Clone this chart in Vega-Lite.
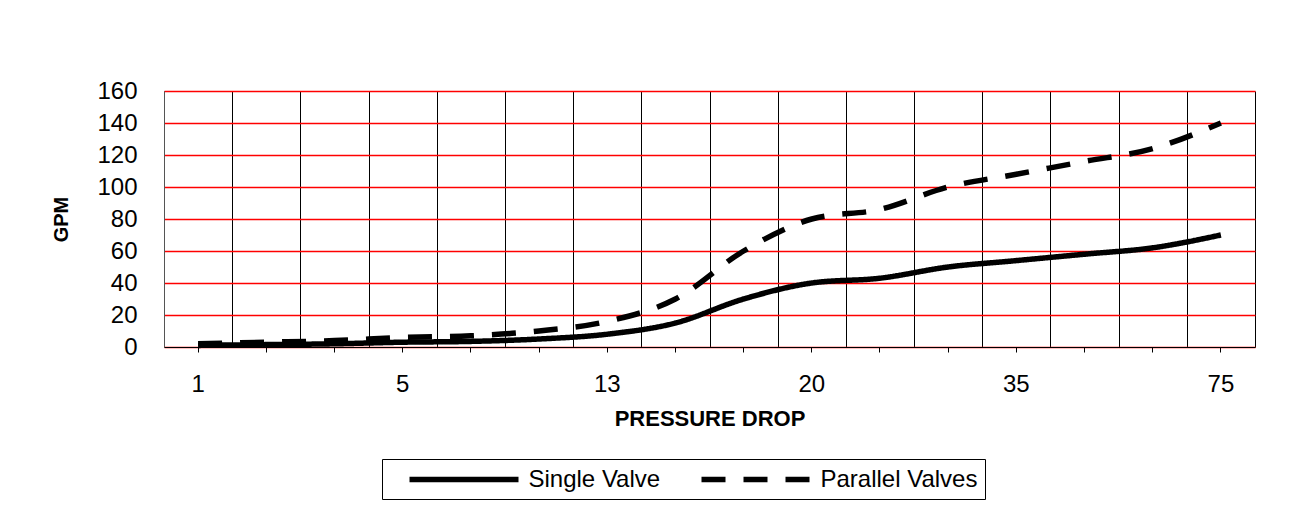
{
  "$schema": "https://vega.github.io/schema/vega-lite/v6.json",
  "width": 1091,
  "height": 256,
  "autosize": {"type": "none"},
  "padding": {"left": 164, "top": 91, "right": 43, "bottom": 169},
  "background": "white",
  "config": {
    "view": {"stroke": null},
    "font": "Liberation Sans",
    "axis": {"labelFont": "Liberation Sans", "titleFont": "Liberation Sans", "labelColor": "black", "titleColor": "black"},
    "legend": {"labelFont": "Liberation Sans"}
  },
  "datasets": {
    "flow": [
      {"drop": "1", "series": "Single Valve", "gpm": 1},
      {"drop": "2", "series": "Single Valve", "gpm": 1.5},
      {"drop": "3", "series": "Single Valve", "gpm": 2},
      {"drop": "5", "series": "Single Valve", "gpm": 3},
      {"drop": "7", "series": "Single Valve", "gpm": 3.5},
      {"drop": "10", "series": "Single Valve", "gpm": 5},
      {"drop": "13", "series": "Single Valve", "gpm": 8},
      {"drop": "15", "series": "Single Valve", "gpm": 15},
      {"drop": "17", "series": "Single Valve", "gpm": 30},
      {"drop": "20", "series": "Single Valve", "gpm": 40},
      {"drop": "25", "series": "Single Valve", "gpm": 43},
      {"drop": "30", "series": "Single Valve", "gpm": 50},
      {"drop": "35", "series": "Single Valve", "gpm": 54},
      {"drop": "45", "series": "Single Valve", "gpm": 58},
      {"drop": "60", "series": "Single Valve", "gpm": 62},
      {"drop": "75", "series": "Single Valve", "gpm": 70},
      {"drop": "1", "series": "Parallel Valves", "gpm": 2},
      {"drop": "2", "series": "Parallel Valves", "gpm": 3},
      {"drop": "3", "series": "Parallel Valves", "gpm": 4},
      {"drop": "5", "series": "Parallel Valves", "gpm": 6},
      {"drop": "7", "series": "Parallel Valves", "gpm": 7},
      {"drop": "10", "series": "Parallel Valves", "gpm": 10},
      {"drop": "13", "series": "Parallel Valves", "gpm": 16},
      {"drop": "15", "series": "Parallel Valves", "gpm": 30},
      {"drop": "17", "series": "Parallel Valves", "gpm": 60},
      {"drop": "20", "series": "Parallel Valves", "gpm": 80},
      {"drop": "25", "series": "Parallel Valves", "gpm": 86},
      {"drop": "30", "series": "Parallel Valves", "gpm": 100},
      {"drop": "35", "series": "Parallel Valves", "gpm": 108},
      {"drop": "45", "series": "Parallel Valves", "gpm": 116},
      {"drop": "60", "series": "Parallel Valves", "gpm": 124},
      {"drop": "75", "series": "Parallel Valves", "gpm": 140}
    ]
  },
  "data": {"name": "flow"},
  "encoding": {
    "y": {
      "field": "gpm",
      "type": "quantitative",
      "scale": {"domain": [0, 160], "nice": false},
      "axis": {
        "values": [0, 20, 40, 60, 80, 100, 120, 140, 160],
        "grid": true,
        "gridColor": "#FF0000",
        "gridWidth": 1.5,
        "domain": true,
        "domainColor": "#555555",
        "domainWidth": 1,
        "ticks": false,
        "labelFontSize": 24,
        "labelPadding": 27,
        "title": "GPM",
        "titleFontSize": 20,
        "titleFontWeight": "bold",
        "titlePadding": 25
      }
    },
    "strokeDash": {
      "field": "series",
      "type": "nominal",
      "scale": {"domain": ["Single Valve", "Parallel Valves"], "range": [[1, 0], [24, 18]]},
      "legend": {
        "title": null,
        "orient": "none",
        "legendX": 218,
        "legendY": 368,
        "direction": "horizontal",
        "symbolType": "M0,0H10.9",
        "symbolSize": 400,
        "symbolStrokeWidth": 5.5,
        "symbolStrokeColor": "black",
        "symbolOffset": 7,
        "labelFontSize": 24,
        "labelColor": "black",
        "labelOffset": 106,
        "columnPadding": 21,
        "padding": 7.5,
        "strokeColor": "black",
        "fillColor": "white"
      }
    }
  },
  "resolve": {"axis": {"x": "independent"}},
  "layer": [
    {
      "transform": [{"filter": "datum.series === 'Single Valve'"}],
      "mark": {"type": "line", "color": "black", "strokeWidth": 5.5, "interpolate": "monotone"},
      "encoding": {
        "x": {
          "field": "drop",
          "type": "ordinal",
          "sort": null,
          "bandPosition": 0.5,
          "scale": {"type": "band", "paddingInner": 0, "paddingOuter": 0},
          "axis": {
            "orient": "bottom",
            "grid": false,
            "domain": true,
            "domainColor": "black",
            "ticks": true,
            "tickSize": 5,
            "tickColor": "black",
            "labelAngle": 0,
            "labelOverlap": false,
            "labelExpr": "indexof(['1','5','13','20','35','75'], datum.label) >= 0 ? datum.label : ''",
            "labelFontSize": 24,
            "labelPadding": 20,
            "title": "PRESSURE DROP",
            "titleFontSize": 22,
            "titleFontWeight": "bold",
            "titlePadding": 12
          }
        }
      }
    },
    {
      "transform": [{"filter": "datum.series === 'Parallel Valves'"}],
      "mark": {"type": "line", "color": "black", "strokeWidth": 5.5, "interpolate": "monotone"},
      "encoding": {
        "x": {
          "field": "drop",
          "type": "ordinal",
          "sort": null,
          "bandPosition": 0.5,
          "scale": {"type": "band", "paddingInner": 0, "paddingOuter": 0},
          "axis": {
            "orient": "top",
            "grid": true,
            "gridColor": "black",
            "gridWidth": 1,
            "tickBand": "extent",
            "domain": false,
            "ticks": false,
            "labels": false,
            "title": null
          }
        }
      }
    }
  ]
}
